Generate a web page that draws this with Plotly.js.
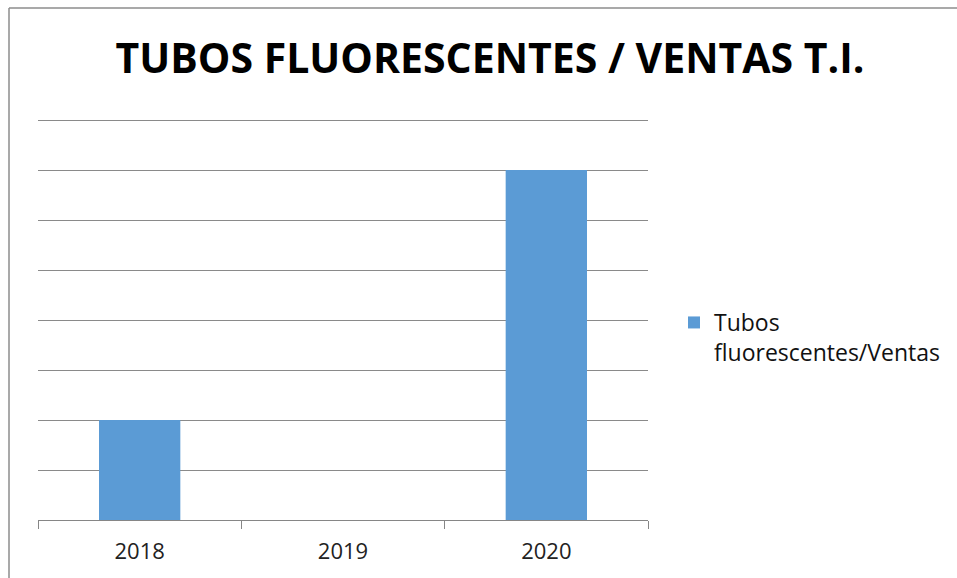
<!DOCTYPE html>
<html>
<head>
<meta charset="utf-8">
<script src="https://cdn.plot.ly/plotly-3.0.1.min.js"></script>
<style>html,body{margin:0;padding:0;background:#fff;}#chart{width:957px;height:578px;}</style>
</head>
<body>
<div id="chart"></div>
<script>
const categories = ["2018", "2019", "2020"];
const values = [2, 0, 7];
const seriesName = "Tubos<br>fluorescentes/Ventas";
const chartTitle = "TUBOS FLUORESCENTES / VENTAS T.I.";
const yMax = 8;

const W = 957, H = 578;
const L = 38, R = 309, T = 120, B = 58;
const pw = W - L - R, ph = H - T - B;
const px = v => (v - L) / pw;
const py = v => (H - B - v) / ph;

const data = [{
  type: "bar",
  x: categories,
  y: values,
  name: seriesName,
  marker: {color: "#5B9BD5"},
  showlegend: true
}];

const layout = {
  width: W, height: H,
  margin: {l: L, r: R, t: T, b: B},
  paper_bgcolor: "#ffffff",
  plot_bgcolor: "#ffffff",
  bargap: 0.6,
  title: {
    text: "<b>" + chartTitle + "</b>",
    font: {family: "Open Sans", size: 41, color: "#000000"},
    x: 490 / W, xanchor: "center", xref: "container",
    y: 1 - 59 / H, yanchor: "middle", yref: "container"
  },
  xaxis: {
    type: "category",
    showline: true, linecolor: "#868686", linewidth: 1,
    ticks: "outside", tickson: "boundaries", ticklen: 8, tickcolor: "#868686",
    tickfont: {family: "Open Sans", size: 22, color: "#222222"},
    ticklabelstandoff: 12,
    showgrid: false, zeroline: false
  },
  yaxis: {
    range: [0, yMax], tick0: 0, dtick: 1,
    showticklabels: false,
    showgrid: true, gridcolor: "#8a8a8a", gridwidth: 1,
    zeroline: false, showline: false, ticks: ""
  },
  showlegend: true,
  legend: {
    x: px(674), xanchor: "left",
    y: py(301), yanchor: "top",
    valign: "top",
    font: {family: "Open Sans", size: 23, color: "#111111"},
    itemwidth: 30,
    bgcolor: "rgba(0,0,0,0)"
  },
  shapes: [
    {type: "line", xref: "paper", yref: "paper", x0: 0, x1: 1, y0: py(120.5), y1: py(120.5), line: {color: "#8a8a8a", width: 1}, layer: "below"},
    {type: "line", xref: "paper", yref: "paper", x0: px(9), x1: px(980), y0: py(8), y1: py(8), line: {color: "#8c8c8c", width: 1.5}},
    {type: "line", xref: "paper", yref: "paper", x0: px(9), x1: px(9), y0: py(8), y1: py(600), line: {color: "#8c8c8c", width: 1.5}}
  ]
};

Plotly.newPlot("chart", data, layout, {displayModeBar: false, staticPlot: true});
</script>
</body>
</html>
